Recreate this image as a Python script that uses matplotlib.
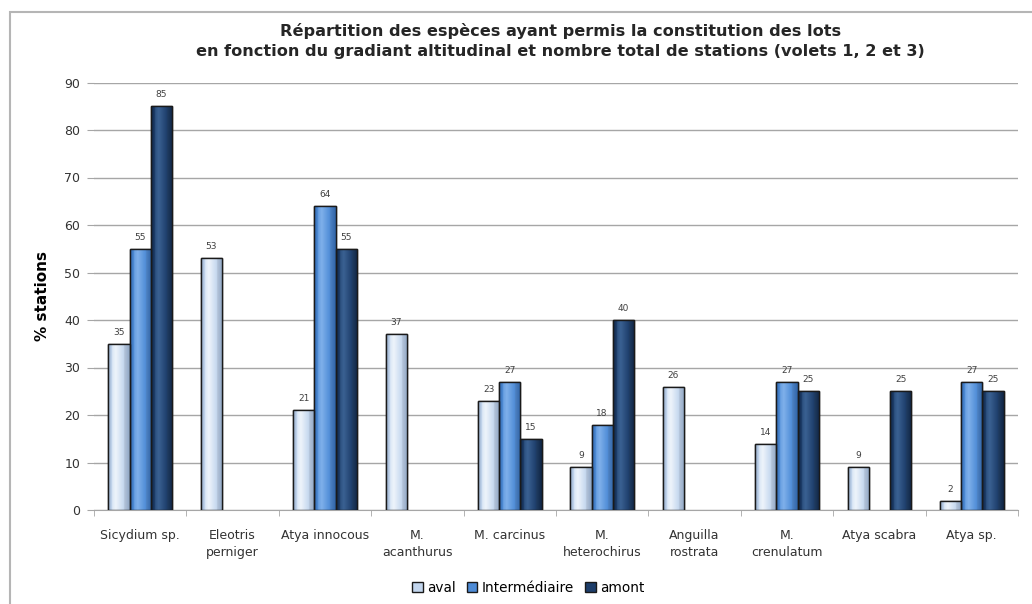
import numpy as np
import matplotlib.pyplot as plt
from matplotlib.patches import Patch, Rectangle
from matplotlib.colors import to_rgb

# ---------------------------
# DONNÉES
# ---------------------------
especes = ["Sicydium sp.", "Eleotris\nperniger", "Atya innocous", "M.\nacanthurus",
           "M. carcinus", "M.\nheterochirus", "Anguilla\nrostrata", "M.\ncrenulatum",
           "Atya scabra", "Atya sp."]
aval = [35, 53, 21, 37, 23, 9, 26, 14, 9, 2]
intermediaire = [55, np.nan, 64, np.nan, 27, 18, np.nan, 27, np.nan, 27]
amont = [85, np.nan, 55, np.nan, 15, 40, np.nan, 25, 25, 25]

series = [("aval", aval), ("Intermédiaire", intermediaire), ("amont", amont)]

# couleurs : (bord sombre, milieu, reflet)
couleurs = {
    "aval": ("#8fa6c4", "#c3d6ee", "#eef4fb"),
    "Intermédiaire": ("#2f64a8", "#4d8bd6", "#7fb0ea"),
    "amont": ("#0f2544", "#1d3d6a", "#3a6192"),
}

W, H = 1032, 604
plt.rcParams['font.family'] = ['DejaVu Sans']

fig = plt.figure(figsize=(W / 100, H / 100), dpi=100)
ax = fig.add_axes([94 / W, 1 - 510 / H, (1018 - 94) / W, (510 - 82.5) / H])


def gradient_bar(rect, key):
    """Remplit une barre avec un dégradé horizontal (effet cylindre)"""
    dark, mid, light = [np.array(to_rgb(c)) for c in couleurs[key]]
    t = np.linspace(0, 1, 64)
    img = np.zeros((1, len(t), 3))
    for i, v in enumerate(t):
        if v < 0.35:
            a = v / 0.35
            col = mid * (1 - a) + light * a if a > 0.5 else dark * (1 - 2 * a) + mid * (2 * a)
        else:
            a = (v - 0.35) / 0.65
            col = light * (1 - a) + dark * a if a > 0.6 else light * (1 - a / 0.6) + mid * (a / 0.6)
        img[0, i] = col
    x0, y0 = rect.get_x(), rect.get_y()
    im = ax.imshow(img, extent=[x0, x0 + rect.get_width(), y0, y0 + rect.get_height()],
                   aspect='auto', zorder=rect.get_zorder() + 0.1, interpolation='bilinear')
    im.set_clip_path(rect)


x = np.arange(len(especes))
largeur = 0.23

for k, (nom, valeurs) in enumerate(series):
    pos = x + (k - 1) * largeur
    vals = np.array(valeurs, dtype=float)
    ok = ~np.isnan(vals)
    bars = ax.bar(pos[ok], vals[ok], largeur, color=couleurs[nom][1],
                  edgecolor="#1a1a1a", linewidth=1.0, zorder=3)
    for rect in bars:
        gradient_bar(rect, nom)
        ax.add_patch(Rectangle((rect.get_x(), 0), rect.get_width(), rect.get_height(),
                               fill=False, edgecolor="#1a1a1a", linewidth=1.0, zorder=4))
    for xi, v in zip(pos[ok], vals[ok]):
        ax.annotate(f"{v:.0f}", (xi, v), xytext=(0, 5), textcoords="offset points",
                    ha="center", va="bottom", fontsize=6.5, color="#404040")

# ---------------------------
# AXES
# ---------------------------
ax.set_xlim(-0.5, len(especes) - 0.5)
ax.set_ylim(0, 90)
ax.set_yticks(np.arange(0, 91, 10))
ax.yaxis.grid(True, color="#a6a6a6", linewidth=1.0, zorder=0)
ax.set_axisbelow(True)

ax.set_xticks(x)
ax.set_xticklabels(especes, fontsize=9, color="#333333", linespacing=1.35)
ax.set_xticks(np.arange(-0.5, len(especes), 1), minor=True)
ax.tick_params(axis="x", which="major", length=0, pad=14)
ax.tick_params(axis="x", which="minor", length=4, color="#a6a6a6", direction="out")
ax.tick_params(axis="y", length=5, color="#a6a6a6", labelsize=9, labelcolor="#333333", pad=5)

for s in ["top", "right", "left"]:
    ax.spines[s].set_visible(False)
ax.spines["bottom"].set_color("#a6a6a6")

ax.set_ylabel("% stations", fontsize=11, fontweight="bold", labelpad=10)

ax.set_title("Répartition des espèces ayant permis la constitution des lots\n"
             "en fonction du gradiant altitudinal et nombre total de stations (volets 1, 2 et 3)",
             fontsize=11.6, fontweight="bold", color="#262626", pad=19, linespacing=1.4,
             x=0.505)

# ---------------------------
# LÉGENDE
# ---------------------------
handles = [Patch(facecolor=couleurs[n][1], edgecolor="#1a1a1a", label=n) for n, _ in series]
fig.legend(handles=handles, loc="center", bbox_to_anchor=(528 / W, 1 - 588 / H), ncol=3,
           frameon=False, fontsize=9.8, handlelength=0.8, handleheight=0.8,
           handletextpad=0.3, columnspacing=0.8)

# cadre du graphique
fig.patches.append(Rectangle((10 / W, -0.02), 1.1, 1 - 12 / H + 0.02, transform=fig.transFigure,
                             fill=False, edgecolor="#b5b5b5", linewidth=1.5))

fig.savefig("out.png", dpi=100)
